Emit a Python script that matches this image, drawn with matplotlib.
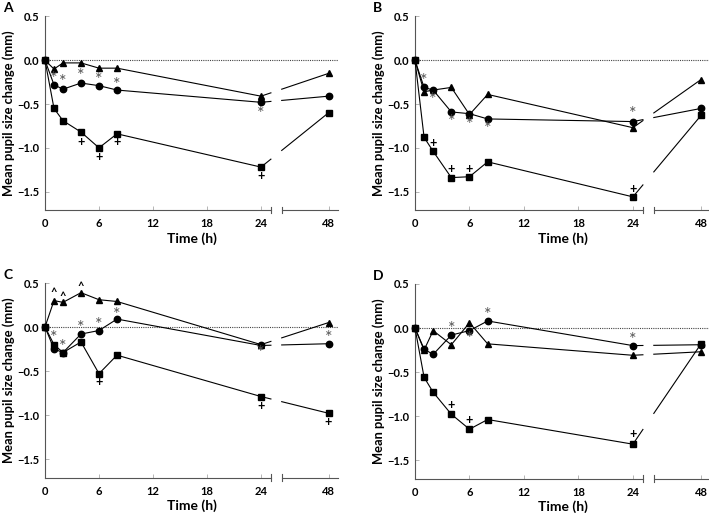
import numpy as np
import matplotlib.pyplot as plt

plt.rcParams['font.family'] = ['Lato', 'DejaVu Sans']
plt.rcParams['font.weight'] = 'bold'
plt.rcParams['axes.unicode_minus'] = True

times = [0, 1, 2, 4, 6, 8, 24, 48]
xtick_labels = ['0', '6', '12', '18', '24', '48']
ytick_vals = [0.5, 0.0, -0.5, -1.0, -1.5]

# panel A
a_tri = [0, -0.10, -0.03, -0.03, -0.09, -0.09, -0.41, -0.15]
a_circ = [0, -0.28, -0.33, -0.26, -0.29, -0.34, -0.48, -0.41]
a_sq = [0, -0.55, -0.69, -0.82, -1.00, -0.84, -1.22, -0.60]
a_star = [(1, -0.21), (2, -0.25), (4, -0.18), (6, -0.22), (8, -0.28), (24, -0.61)]
a_plus = [(4, -0.93), (6, -1.10), (8, -0.93), (24, -1.32)]
a_caret = []

# panel B
b_tri = [0, -0.36, -0.34, -0.31, -0.62, -0.39, -0.77, -0.22]
b_circ = [0, -0.31, -0.34, -0.59, -0.61, -0.67, -0.70, -0.55]
b_sq = [0, -0.88, -1.04, -1.34, -1.33, -1.16, -1.56, -0.63]
b_star = [(1, -0.24), (2, -0.45), (4, -0.70), (6, -0.74), (8, -0.78), (24, -0.61)]
b_plus = [(2, -0.95), (4, -1.24), (6, -1.24), (24, -1.47)]
b_caret = []

# panel C
c_tri = [0, 0.30, 0.28, 0.39, 0.31, 0.29, -0.20, 0.05]
c_circ = [0, -0.25, -0.29, -0.08, -0.04, 0.09, -0.21, -0.19]
c_sq = [0, -0.20, -0.29, -0.17, -0.53, -0.32, -0.79, -0.98]
c_star = [(1, -0.13), (2, -0.23), (4, -0.01), (6, 0.02), (8, 0.14), (24, -0.30), (48, -0.12)]
c_plus = [(6, -0.63), (24, -0.90), (48, -1.08)]
c_caret = [(1, 0.39), (2, 0.35), (4, 0.46)]

# panel D
d_tri = [0, -0.25, -0.03, -0.19, 0.06, -0.18, -0.31, -0.27]
d_circ = [0, -0.24, -0.30, -0.08, -0.03, 0.08, -0.20, -0.19]
d_sq = [0, -0.56, -0.73, -0.98, -1.15, -1.04, -1.32, -0.18]
d_star = [(4, -0.01), (6, -0.12), (8, 0.15), (24, -0.14)]
d_plus = [(4, -0.88), (6, -1.05), (24, -1.21)]
d_caret = []

panels = [
    ('A', a_tri, a_circ, a_sq, a_star, a_plus, a_caret),
    ('B', b_tri, b_circ, b_sq, b_star, b_plus, b_caret),
    ('C', c_tri, c_circ, c_sq, c_star, c_plus, c_caret),
    ('D', d_tri, d_circ, d_sq, d_star, d_plus, d_caret),
]

# broken time axis: 48 h is drawn just after the break
X48 = 31.5
BREAK1, BREAK2 = 25.1, 26.3
XMAX = 32.6
YMIN, YMAX = -1.71, 0.5


def xpos(t):
    return t if t <= 24 else X48


W, H = 709, 513
# left px, top px (y=0.5), px per hour, bottom px
layout = [(45, 16.5, 9.0, 210), (415, 16.5, 9.08, 210),
          (45, 283, 9.0, 477.5), (415, 284, 9.08, 478.5)]

fig = plt.figure(figsize=(W / 100, H / 100), dpi=100)

for (letter, tri, circ, sq, stars, pluses, carets), (lx, ty, sc, by) in zip(panels, layout):
    ax = fig.add_axes([lx / W, 1 - by / H, XMAX * sc / W, (by - ty) / H])
    ax.set_xlim(0, XMAX)
    ax.set_ylim(YMIN, YMAX)

    ax.plot([0, XMAX], [0, 0], ls=(0, (1, 1)), color='#444444', lw=0.8)

    for vals, mk, ms in [(tri, '^', 4.8), (circ, 'o', 4.6), (sq, 's', 4.6)]:
        xs = [xpos(t) for t in times]
        # points up to 24 h
        ax.plot(xs[:-1], vals[:-1], color='black', lw=0.8, marker=mk, ms=ms,
                mfc='black', mec='black', clip_on=False, zorder=3)
        # line across the break, cut where the axis is cut
        x0, x1 = xs[-2], xs[-1]
        y0, y1 = vals[-2], vals[-1]
        ya = y0 + (y1 - y0) * (BREAK1 - x0) / (x1 - x0)
        yb = y0 + (y1 - y0) * (BREAK2 - x0) / (x1 - x0)
        ax.plot([x0, BREAK1], [y0, ya], color='black', lw=0.8, zorder=2)
        ax.plot([BREAK2, x1], [yb, y1], color='black', lw=0.8, zorder=2)
        ax.plot([x1], [y1], color='black', marker=mk, ms=ms, clip_on=False, zorder=3)

    for t, y in stars:
        ax.text(xpos(t), y, '*', ha='center', va='center', fontsize=13,
                color='#555555', fontweight='normal')
    for t, y in pluses:
        ax.text(xpos(t), y, '+', ha='center', va='center', fontsize=9,
                color='black', fontweight='bold')
    for t, y in carets:
        ax.text(xpos(t), y, '^', ha='center', va='center', fontsize=8,
                color='black', fontweight='bold')

    for side in ['top', 'right', 'bottom']:
        ax.spines[side].set_visible(False)
    ax.spines['left'].set_color('#555555')
    ax.spines['left'].set_linewidth(0.8)

    # bottom axis drawn in two pieces
    ax.plot([0, BREAK1], [YMIN, YMIN], color='#555555', lw=0.8, clip_on=False)
    ax.plot([BREAK2, XMAX], [YMIN, YMIN], color='#555555', lw=0.8, clip_on=False)
    for xb in [BREAK1, BREAK2]:
        ax.plot([xb, xb], [YMIN - 0.035, YMIN + 0.035], color='#555555', lw=0.8,
                clip_on=False)

    ax.set_xticks([0, 6, 12, 18, 24, X48])
    ax.set_xticklabels(xtick_labels)
    ax.set_yticks(ytick_vals)
    ax.set_yticklabels(['0.5', '0.0', '\u22120.5', '\u22121.0', '\u22121.5'])
    ax.tick_params(direction='in', length=3, width=0.6, color='#aaaaaa',
                   labelsize=8)
    ax.tick_params(axis='x', pad=6)
    ax.tick_params(axis='y', pad=4)
    for lab in ax.get_xticklabels() + ax.get_yticklabels():
        lab.set_fontweight('bold')

    ax.set_xlabel('Time (h)', fontsize=10, fontweight='bold', labelpad=2)
    ax.set_ylabel('Mean pupil size change (mm)', fontsize=9.3, fontweight='bold',
                  labelpad=2)

    fig.text((lx - 42) / W, 1 - (ty - 8) / H, letter, fontsize=10,
             fontweight='bold', ha='left', va='center')

fig.savefig('out.png', dpi=100)
